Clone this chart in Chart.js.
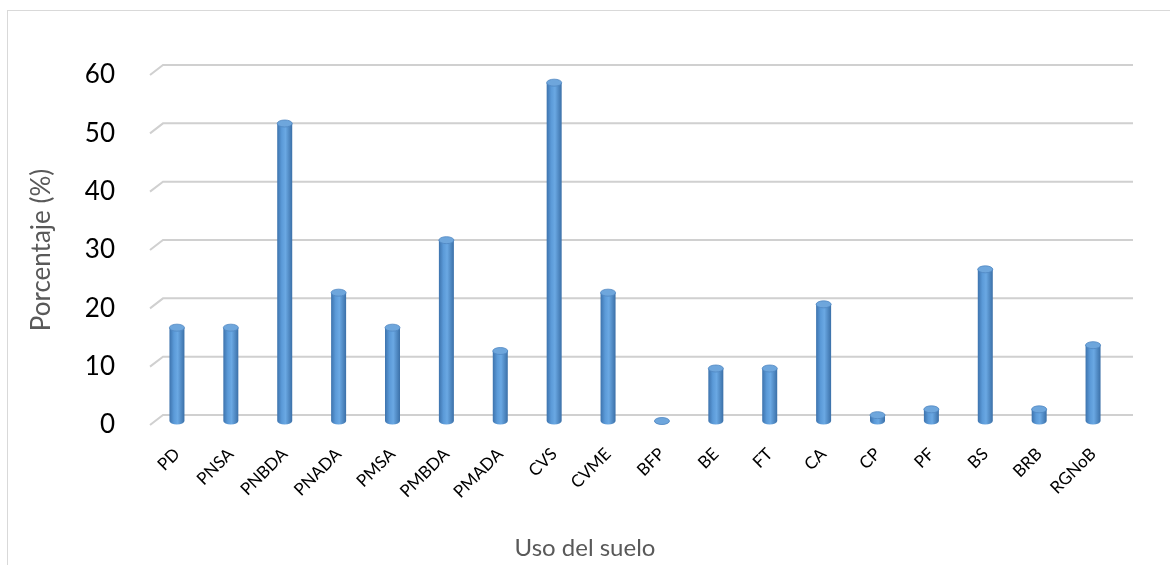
<!DOCTYPE html>
<html>
<head>
<meta charset="utf-8">
<script src="https://cdn.jsdelivr.net/npm/chart.js@4/dist/chart.umd.min.js"></script>
<style>
  body { margin: 0; background: #fff; }
  #frame { position: absolute; left: 7px; top: 10px; width: 1200px; height: 600px; border: 1px solid #d9d9d9; }
  #wrap { position: absolute; left: 0; top: 0; width: 1170px; height: 565px; }
</style>
</head>
<body>
<div id="frame"></div>
<div id="wrap"><canvas id="myChart" width="1170" height="565"></canvas></div>
<script>
// categories and values (%)
const usos = ["PD", "PNSA", "PNBDA", "PNADA", "PMSA", "PMBDA", "PMADA", "CVS", "CVME",
  "BFP", "BE", "FT", "CA", "CP", "PF", "BS", "BRB", "RGNoB"];
const porcentajes = [16, 16, 51, 22, 16, 31, 12, 58, 22, 0, 9, 9, 20, 1, 2, 26, 2, 13];
const yTicks = [0, 10, 20, 30, 40, 50, 60];

// back-wall gridlines with the little 3D step on the left
const wallGrid = {
  id: "wallGrid",
  beforeDatasetsDraw(chart) {
    const ctx = chart.ctx;
    const ys = chart.scales.y;
    const { left, right } = chart.chartArea;
    ctx.save();
    ctx.strokeStyle = "#d0d0d0";
    ctx.lineWidth = 2;
    yTicks.forEach(v => {
      const py = ys.getPixelForValue(v);
      ctx.beginPath();
      ctx.moveTo(left, py);
      ctx.lineTo(left + 13, py - 10);
      ctx.lineTo(right + 13, py - 10);
      ctx.stroke();
    });
    ctx.restore();
  }
};

// draw each bar as a cylinder
const cylinders = {
  id: "cylinders",
  afterDatasetsDraw(chart) {
    const ctx = chart.ctx;
    const ry = 3.5;
    chart.getDatasetMeta(0).data.forEach(bar => {
      const p = bar.getProps(["x", "y", "base", "width"], true);
      const rx = p.width / 2;
      const l = p.x - rx, r = p.x + rx;
      const top = p.y - 4, bot = p.base - 4;
      const g = ctx.createLinearGradient(l, 0, r, 0);
      g.addColorStop(0, "#3d73ad");
      g.addColorStop(0.3, "#5b9ad8");
      g.addColorStop(0.55, "#6aa8e3");
      g.addColorStop(1, "#3b70a8");
      ctx.save();
      ctx.beginPath();
      ctx.moveTo(l, top);
      ctx.lineTo(l, bot);
      ctx.ellipse(p.x, bot, rx, ry, 0, Math.PI, 0, true);
      ctx.lineTo(r, top);
      ctx.closePath();
      ctx.fillStyle = g;
      ctx.fill();
      ctx.beginPath();
      ctx.ellipse(p.x, top, rx, ry, 0, 0, Math.PI * 2);
      ctx.fillStyle = "#6ea6dc";
      ctx.fill();
      ctx.strokeStyle = "#4f87c2";
      ctx.lineWidth = 0.8;
      ctx.stroke();
      ctx.restore();
    });
  }
};

new Chart(document.getElementById("myChart"), {
  type: "bar",
  data: {
    labels: usos,
    datasets: [{
      label: "Porcentaje",
      data: porcentajes,
      backgroundColor: "rgba(0,0,0,0)",
      barThickness: 15
    }]
  },
  options: {
    responsive: false,
    animation: false,
    layout: { padding: { top: 75, left: 0, right: 0, bottom: 0 } },
    plugins: {
      legend: { display: false },
      tooltip: { enabled: false },
      title: {
        display: true,
        position: "bottom",
        text: "Uso del suelo",
        color: "#595959",
        font: { family: "Lato", size: 24, weight: "normal" },
        padding: { top: 0, bottom: 2 }
      }
    },
    scales: {
      x: {
        grid: { display: false },
        border: { display: false },
        ticks: {
          color: "#000",
          font: { family: "Lato", size: 17 },
          minRotation: 45,
          maxRotation: 45,
          padding: 11,
          autoSkip: false
        },
        afterFit: s => { s.height = 109.2; }
      },
      y: {
        min: 0,
        max: 60,
        grid: { display: false },
        border: { display: false },
        ticks: {
          stepSize: 10,
          color: "#000",
          font: { family: "Lato", size: 26 },
          padding: 27
        },
        title: {
          display: true,
          text: "Porcentaje (%)",
          color: "#595959",
          font: { family: "Lato", size: 26 },
          padding: { top: 26, bottom: 0 }
        },
        afterFit: s => { s.width = 150; }
      },
      y2: {
        position: "right",
        grid: { display: false },
        border: { display: false },
        ticks: { display: false },
        afterFit: s => { s.width = 50; }
      }
    }
  },
  plugins: [wallGrid, cylinders]
});
</script>
</body>
</html>
